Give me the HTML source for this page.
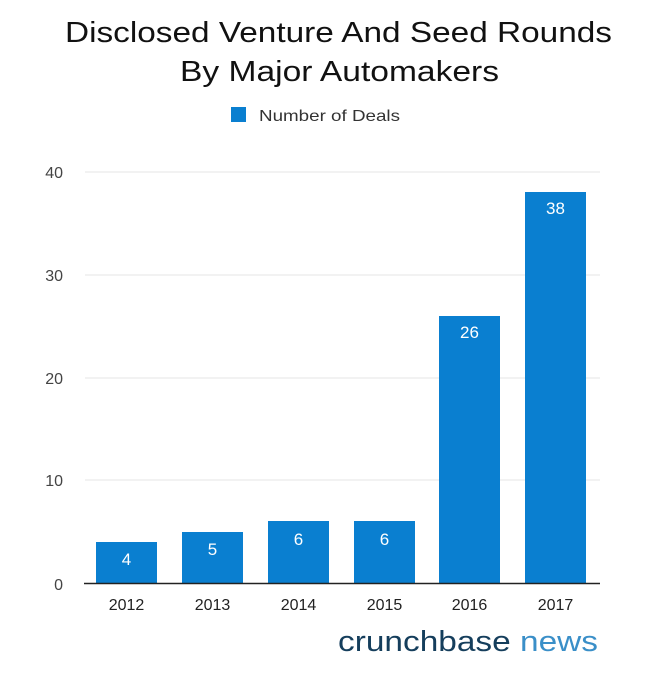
<!DOCTYPE html>
<html><head><style>
body{margin:0;background:#fff;}
</style></head><body>
<svg width="653" height="680" xmlns="http://www.w3.org/2000/svg" font-family="Liberation Sans, sans-serif">
<rect width="653" height="680" fill="#fff"/>
<text x="65" y="42" font-size="29" fill="#111" textLength="547" lengthAdjust="spacingAndGlyphs">Disclosed Venture And Seed Rounds</text>
<text x="180" y="81" font-size="29" fill="#111" textLength="319" lengthAdjust="spacingAndGlyphs">By Major Automakers</text>
<rect x="231" y="107" width="15" height="15" fill="#0a7fd0"/>
<text x="259" y="121" font-size="16" fill="#333" textLength="141" lengthAdjust="spacingAndGlyphs">Number of Deals</text>
<g stroke="#e6e6e6" stroke-width="1">
<line x1="85" y1="172" x2="600" y2="172"/>
<line x1="85" y1="275" x2="600" y2="275"/>
<line x1="85" y1="378" x2="600" y2="378"/>
<line x1="85" y1="480" x2="600" y2="480"/>
</g>
<g font-size="16" fill="#444" text-anchor="end">
<text x="63" y="178">40</text>
<text x="63" y="281">30</text>
<text x="63" y="384">20</text>
<text x="63" y="486">10</text>
<text x="63" y="590">0</text>
</g>
<g fill="#0a7fd0">
<rect x="96" y="542" width="61" height="41"/>
<rect x="182" y="532" width="61" height="51"/>
<rect x="268" y="521" width="61" height="62"/>
<rect x="354" y="521" width="61" height="62"/>
<rect x="439" y="316" width="61" height="267"/>
<rect x="525" y="192" width="61" height="391"/>
</g>
<line x1="84" y1="583.5" x2="600" y2="583.5" stroke="#222" stroke-width="1.5"/>
<g font-size="17" fill="#fff" text-anchor="middle">
<text x="126.5" y="565">4</text>
<text x="212.5" y="555">5</text>
<text x="298.5" y="545">6</text>
<text x="384.5" y="545">6</text>
<text x="469.5" y="338">26</text>
<text x="555.5" y="214">38</text>
</g>
<g font-size="16" fill="#222" text-anchor="middle">
<text x="126.5" y="610">2012</text>
<text x="212.5" y="610">2013</text>
<text x="298.5" y="610">2014</text>
<text x="384.5" y="610">2015</text>
<text x="469.5" y="610">2016</text>
<text x="555.5" y="610">2017</text>
</g>
<text x="338" y="651" font-size="29" textLength="260" lengthAdjust="spacingAndGlyphs"><tspan fill="#153e5c">crunchbase</tspan><tspan fill="#3a8fc8"> news</tspan></text>
</svg>
</body></html>
